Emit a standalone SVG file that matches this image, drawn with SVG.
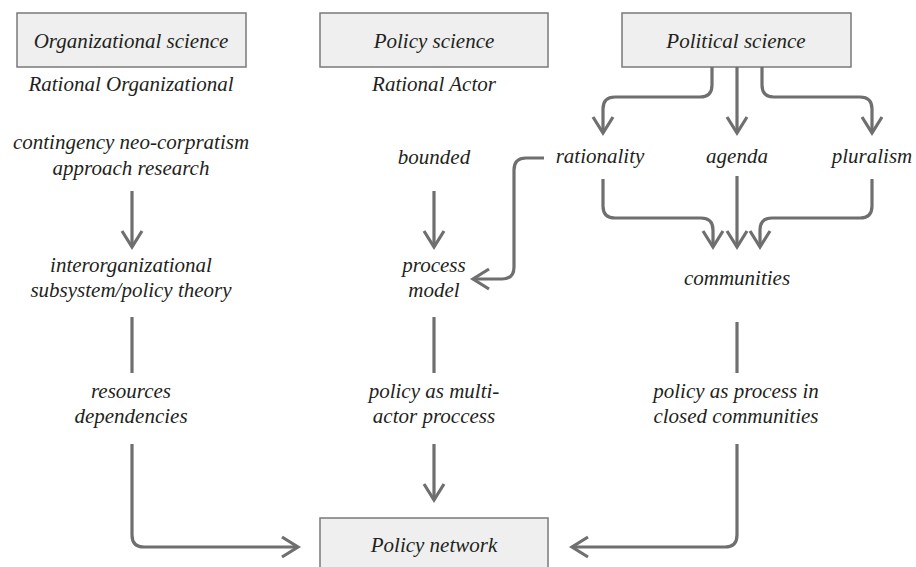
<svg xmlns="http://www.w3.org/2000/svg" width="916" height="567" viewBox="0 0 916 567">
<defs>
<style>
.box{fill:#eeefee;stroke:#7a7a7a;stroke-width:1.5}
text{font-family:"Liberation Serif","DejaVu Serif",serif;font-style:italic;font-size:21px;fill:#231f20;text-anchor:middle}
.c{fill:none;stroke:#6f6f6f;stroke-width:3.2;stroke-linecap:butt;stroke-linejoin:round}
</style>
<marker id="ah" viewBox="-20 -12 24 24" refX="0" refY="0" markerWidth="24" markerHeight="24" markerUnits="userSpaceOnUse" orient="auto">
<path d="M-16,-10 L0,0 L-16,10" fill="none" stroke="#6f6f6f" stroke-width="3.2" stroke-linejoin="miter"/>
</marker>
</defs>
<rect width="916" height="567" fill="#ffffff"/>
<g id="org-science"><rect class="box" x="17" y="13" width="229" height="54"/><text x="131" y="48">Organizational science</text></g>
<g id="policy-science"><rect class="box" x="320" y="13" width="228" height="54"/><text x="434" y="48">Policy science</text></g>
<g id="political-science"><rect class="box" x="622" y="13" width="229" height="54"/><text x="736" y="48">Political science</text></g>
<g id="rational-org"><text x="131" y="91">Rational Organizational</text></g>
<g id="rational-actor"><text x="434" y="91">Rational Actor</text></g>
<g id="contingency"><text x="131" y="149">contingency neo-corpratism</text><text x="131" y="175">approach research</text></g>
<g id="bounded"><text x="434" y="164">bounded</text></g>
<g id="rationality"><text x="600" y="163">rationality</text></g>
<g id="agenda"><text x="737" y="163">agenda</text></g>
<g id="pluralism"><text x="872" y="163">pluralism</text></g>
<g id="interorg"><text x="131" y="272">interorganizational</text><text x="131" y="297">subsystem/policy theory</text></g>
<g id="process-model"><text x="434" y="272">process</text><text x="434" y="297">model</text></g>
<g id="communities"><text x="737" y="285">communities</text></g>
<g id="resources"><text x="131" y="398">resources</text><text x="131" y="423">dependencies</text></g>
<g id="multi-actor"><text x="434" y="398">policy as multi-</text><text x="434" y="423">actor proccess</text></g>
<g id="closed"><text x="736" y="398">policy as process in</text><text x="736" y="423">closed communities</text></g>
<g id="policy-network"><rect class="box" x="320" y="518" width="228" height="70"/><text x="434" y="552">Policy network</text></g>
<g id="connectors">
<path class="c" d="M712 67 V85 Q712 97 700 97 H615 Q603 97 603 109 V133" marker-end="url(#ah)"/>
<path class="c" d="M737 67 V133" marker-end="url(#ah)"/>
<path class="c" d="M762 67 V85 Q762 97 774 97 H860 Q872 97 872 109 V133" marker-end="url(#ah)"/>
<path class="c" d="M603 179 V206 Q603 218 615 218 H701 Q713 218 713 230 V247" marker-end="url(#ah)"/>
<path class="c" d="M737 176 V247" marker-end="url(#ah)"/>
<path class="c" d="M872 179 V206 Q872 218 860 218 H772 Q760 218 760 230 V247" marker-end="url(#ah)"/>
<path class="c" d="M544 158 H526 Q514 158 514 170 V267 Q514 279 502 279 H473" marker-end="url(#ah)"/>
<path class="c" d="M132 191 V247" marker-end="url(#ah)"/>
<path class="c" d="M434 191 V247" marker-end="url(#ah)"/>
<path class="c" d="M132 317 V373"/>
<path class="c" d="M434 317 V373"/>
<path class="c" d="M737 322 V373"/>
<path class="c" d="M132 444 V535 Q132 547 144 547 H298" marker-end="url(#ah)"/>
<path class="c" d="M434 444 V500" marker-end="url(#ah)"/>
<path class="c" d="M737 444 V535 Q737 547 725 547 H572" marker-end="url(#ah)"/>
</g>
</svg>
